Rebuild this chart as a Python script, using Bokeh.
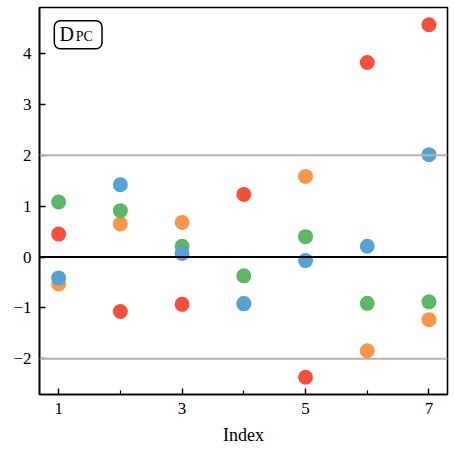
from bokeh.plotting import figure
from bokeh.models import (Range1d, FixedTicker, Span, BoxAnnotation, Label)
from bokeh.embed import file_html
from bokeh.resources import INLINE

# Component values per index
index = [1, 2, 3, 4, 5, 6, 7]
red_vals = [0.45, -1.07, -0.93, 1.23, -2.36, 3.82, 4.56]
orange_vals = [-0.53, 0.65, 0.68, -0.91, 1.58, -1.84, -1.23]
green_vals = [1.08, 0.91, 0.21, -0.37, 0.40, -0.91, -0.88]
blue_vals = [-0.41, 1.42, 0.07, -0.92, -0.07, 0.21, 2.01]

x_ticks = [1, 3, 5, 7]
x_minor = [2, 4, 6]
y_ticks = [-2, -1, 0, 1, 2, 3, 4]

series = [
    (red_vals, "#f4513a"),
    (orange_vals, "#fa964a"),
    (green_vals, "#5cb866"),
    (blue_vals, "#56a2d4"),
]

FONT = "Liberation Serif"

p = figure(width=455, height=452, output_backend="svg", toolbar_location=None,
           x_range=Range1d(0.69, 7.3), y_range=Range1d(-2.7, 4.9),
           min_border_left=39, min_border_right=8, min_border_top=7,
           min_border_bottom=58)

p.grid.visible = False
p.background_fill_color = "white"
p.border_fill_color = "white"
p.outline_line_color = "black"
p.outline_line_width = 1.6

# reference lines
p.add_layout(Span(location=2, dimension="width", line_color="#b4b4b4", line_width=2))
p.add_layout(Span(location=-2, dimension="width", line_color="#b4b4b4", line_width=2))
p.add_layout(Span(location=0, dimension="width", line_color="black", line_width=2))

for vals, col in series:
    p.scatter(index, vals, size=15, fill_color=col, line_color=None)

# axes
p.xaxis.ticker = FixedTicker(ticks=x_ticks, minor_ticks=x_minor)
p.yaxis.ticker = FixedTicker(ticks=y_ticks, minor_ticks=[])
p.yaxis.major_label_overrides = {t: (("\u2212" + str(-t)) if t < 0 else str(t)) for t in y_ticks}
for ax in (p.xaxis[0], p.yaxis[0]):
    ax.axis_line_width = 1.6
    ax.axis_line_color = "black"
    ax.major_tick_in = 6
    ax.major_tick_out = 0
    ax.minor_tick_in = 4
    ax.minor_tick_out = 0
    ax.major_tick_line_width = 1.4
    ax.minor_tick_line_width = 1.2
    ax.major_tick_line_color = "black"
    ax.minor_tick_line_color = "black"
    ax.major_label_text_font = FONT
    ax.major_label_text_font_size = "17px"
    ax.major_label_text_color = "black"
p.xaxis.major_label_standoff = 8
p.yaxis.major_label_standoff = 8
p.xaxis.axis_label = "Index"
p.xaxis.axis_label_text_font = FONT
p.xaxis.axis_label_text_font_style = "normal"
p.xaxis.axis_label_text_font_size = "18px"
p.xaxis.axis_label_text_color = "black"
p.xaxis.axis_label_standoff = 8

# panel tag box
p.add_layout(BoxAnnotation(left=0.93, right=1.703, top=4.64, bottom=4.09,
                           fill_color="white", fill_alpha=1.0,
                           line_color="black", line_alpha=1.0, line_width=1.5,
                           border_radius=6))
p.add_layout(Label(x=1.133, y=4.384, text="D", text_font=FONT, text_color="black",
                   text_font_size="20px", text_baseline="middle", text_align="center"))
p.add_layout(Label(x=1.417, y=4.325, text="PC", text_font=FONT, text_color="black",
                   text_font_size="14px", text_baseline="middle", text_align="center"))

open("out.html", "w").write(file_html(p, INLINE))
